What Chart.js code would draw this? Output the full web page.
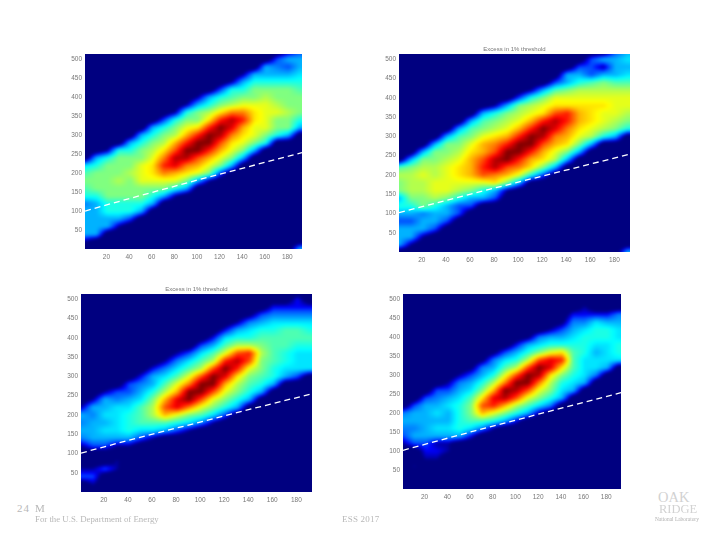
<!DOCTYPE html>
<html>
<head>
<meta charset="utf-8">
<title>Excess in 1% threshold</title>
<script src="https://cdn.jsdelivr.net/npm/chart.js@4"></script>
<style>
  html, body { margin: 0; padding: 0; background: #fff; }
  #page { position: relative; width: 720px; height: 540px; overflow: hidden; }
  canvas { position: absolute; }
  .foot { position: absolute; color: #b8b8b8; font-family: "Liberation Serif", serif; white-space: nowrap; line-height: 1; }
</style>
</head>
<body>
<div id="page">
  <canvas id="c1"></canvas>
  <canvas id="c2"></canvas>
  <canvas id="c3"></canvas>
  <canvas id="c4"></canvas>
  <span class="foot" style="left:17px;top:503px;font-size:11px;letter-spacing:1px">24</span>
  <span class="foot" style="left:35px;top:503px;font-size:11px">M</span>
  <span class="foot" style="left:35px;top:515px;font-size:8.8px">For the U.S. Department of Energy</span>
  <span class="foot" style="left:342px;top:515px;font-size:9px;letter-spacing:.2px">ESS 2017</span>
  <span class="foot" style="left:658px;top:490px;font-size:14.5px;color:#d2d2d2">OAK</span>
  <span class="foot" style="left:659px;top:503px;font-size:12.5px;color:#d2d2d2">RIDGE</span>
  <span class="foot" style="left:655px;top:517px;font-size:5.4px;color:#b0b0b0">National Laboratory</span>
</div>
<script>
// Grid nodes shared by the four panels
const xStops = [1, 11, 21, 31, 41, 51, 61, 71, 81, 91, 101, 111, 121, 131, 141, 151, 161, 171, 181, 191];
const yStep = 20; // each column below lists values at y = 0, 20, 40 ... (missing tail = 0)

const xTickValues = [20, 40, 60, 80, 100, 120, 140, 160, 180];
const yTickValues = [50, 100, 150, 200, 250, 300, 350, 400, 450, 500];

const titleText = 'Excess in 1% threshold';

// Dashed line
const lineX = [1, 33, 65, 97, 129, 161, 193];
const line1 = [100, 127, 153, 179, 204, 229, 254];
const line2 = [102, 128, 154, 179, 204, 229, 254];
const line3 = [101, 128, 154, 179, 205, 230, 255];
const line4 = [102, 128, 154, 179, 204, 229, 254];

// Heat values, 0 (navy) to 10 (dark red), one array per xStop
const heat1 = [
  [0,1,3,3,3,3,2.5,4,4.5,5,4.5,3.5,0],
  [0,0,3,3,3,3,3,4,5,5,5,4,3,0],
  [0,0,0,3,3,4,4,5,5,5,5,5,4,1,0],
  [0,0,0,1,3,4,4,5,5,5.5,5,5,5,4,0],
  [0,0,0,0,2,4,4,5,5,5,5.5,5,5,4,3,0],
  [0,0,0,0,0,3,4,5,5,6,6,6,5,5,4,3,0],
  [0,0,0,0,0,0,3,4,5,6,6.5,6.5,6,5.5,5,4,3,0],
  [0,0,0,0,0,0,0,3,5,6,7.5,8.5,7.5,6.5,5.5,5,4,2,0],
  [0,0,0,0,0,0,0,1,4,6,7,9,9.5,8,7,5.5,5,4,1],
  [0,0,0,0,0,0,0,0,3,5,6.5,7.5,9.5,10,8.5,7,6,5,4,1],
  [0,0,0,0,0,0,0,0,0,3,6,7,8,10,10,8.5,6.5,5,5,3,1],
  [0,0,0,0,0,0,0,0,0,1,5,6,7,8.5,10,10,8.5,6.5,5.5,4,3],
  [0,0,0,0,0,0,0,0,0,0,2,5,6,7,8,9.5,10,8.5,6.5,5,4,2],
  [0,0,0,0,0,0,0,0,0,0,0,3,5,6,6.5,7.5,9,9.5,7.5,5.5,4.5,4,1],
  [0,0,0,0,0,0,0,0,0,0,0,0,3,5,6,6.5,7,8.5,7.5,6,5,4,3,1],
  [0,0,0,0,0,0,0,0,0,0,0,0,0,3,5,6,6,6.5,6.5,6,5,5,4,3],
  [0,0,0,0,0,0,0,0,0,0,0,0,0,0,4,5,6,6,6,6,5.5,5,4,3,3],
  [0,0,0,0,0,0,0,0,0,0,0,0,0,0,0,4,5,5,6,5.5,5,5,4,3,2.5,2],
  [0,0,0,0,0,0,0,0,0,0,0,0,0,0,0,3,5,5,5.5,5,5,5,4,3,2,3,1],
  [3,0,0,0,0,0,0,0,0,0,0,0,0,0,0,0,3,4,5,5,5,4.5,4,3.5,3,3,2]
];
const heat2 = [
  [0,3,3,3,2,3,4,3,5,5,5.5,4.5,0],
  [0,1,3,3,2,3,4,5,5.5,5.5,5.5,5,3,0],
  [0,0,1,3,3,2.5,5,5,5.5,5.5,6,5.5,5,3,0],
  [0,0,0,2,3,3,4,5.5,6,6,5.5,5.5,5,5,3,0],
  [0,0,0,0,2,3,3,5,6,6,6,6,5.5,5,5,3,0],
  [0,0,0,0,0,2,2,4,5.5,6,6.5,6.5,6,5.5,5,4.5,3,0],
  [0,0,0,0,0,0,2,3,5,6,7,7,7,6.5,6,5,4.5,3,0],
  [0,0,0,0,0,0,0,3,4,6,8,8.5,8,7,7,6,5,4.5,3,0],
  [0,0,0,0,0,0,0,2,3,6.5,7.5,9.5,9.5,8,7.5,6.5,5.5,5,4,1],
  [0,0,0,0,0,0,0,0,1,5,7,8,10,10,8.5,7,6,5.5,5,3,0],
  [0,0,0,0,0,0,0,0,0,3,6,7.5,8.5,10,10,8.5,7,6,5.5,5,2,0],
  [0,0,0,0,0,0,0,0,0,0,4,6.5,7,8.5,10,10,8.5,7,6,5.5,4,1],
  [0,0,0,0,0,0,0,0,0,0,2,5,6.5,7,8,9.5,10,8.5,6.5,6,5,3,0],
  [0,0,0,0,0,0,0,0,0,0,0,3,5.5,6,7,7.5,9,9.5,8,6.5,6,4.5,2,0],
  [0,0,0,0,0,0,0,0,0,0,0,0,3,5,6.5,7,7.5,8.5,8.5,6.5,6,5,3,3,0],
  [0,0,0,0,0,0,0,0,0,0,0,0,0,3,5,6,6.5,7,7,6.5,6,5.5,4,3,2,0],
  [0,0,0,0,0,0,0,0,0,0,0,0,0,0,3,5.5,6,6.5,6.5,6.5,6,5.5,4.5,2,2,2,0],
  [0,0,0,0,0,0,0,0,0,0,0,0,0,0,0,4,5.5,6,6,6.5,6,5.5,5,3,1,3,0],
  [0,0,0,0,0,0,0,0,0,0,0,0,0,0,0,3,5,5.5,6,6,6,5.5,4.5,3,3,3,2],
  [3,0,0,0,0,0,0,0,0,0,0,0,0,0,0,0,4,5,5.5,6,6,5.5,4.5,3.5,3,3.5,3]
];
const heat3 = [
  [0,0,2,1,0,0,1,2.5,3,2.5,3,1,0],
  [0,1,2,1,0,0,2,3,3,3,2.5,3,1,0],
  [0,0,0,2,0,0,2,3,3.5,3,3.5,3,3,1,0],
  [0,0,0,1,1,0,1,3,3.5,3.5,3.5,3.5,2.5,2,0],
  [0,0,0,0,0,0,1,3,4,4,4,3.5,3,2,2,0],
  [0,0,0,0,0,0,0,2,3.5,4.5,4.5,4.5,3.5,3,2.5,1.5,0],
  [0,0,0,0,0,0,0,1,3.5,4.5,5.5,5.5,5,4,3,3,1.5,0],
  [0,0,0,0,0,0,0,0,3,4.5,7,8,7,5.5,4.5,3.5,2.5,1,0],
  [0,0,0,0,0,0,0,0,2,4,6,9,9,7,6,4.5,3.5,2.5,1],
  [0,0,0,0,0,0,0,0,1,3.5,5,7.5,10,10,7.5,6,4.5,3.5,2,0],
  [0,0,0,0,0,0,0,0,0,2.5,4.5,6,8,10,10,8,5.5,4.5,3.5,2,0],
  [0,0,0,0,0,0,0,0,0,1,3.5,5,6,8,10,10,8,5.5,4.5,3,1.5],
  [0,0,0,0,0,0,0,0,0,0,2,4,5,6,7,9,10,8.5,6,4.5,3.5,1.5],
  [0,0,0,0,0,0,0,0,0,0,0,3,4,5,5.5,6.5,8.5,9.5,8,5.5,4,3,1],
  [0,0,0,0,0,0,0,0,0,0,0,0,3,4,4.5,5,6,8,8.5,5.5,4,3.5,2.5,0.5],
  [0,0,0,0,0,0,0,0,0,0,0,0,0,3,4,4.5,5,5,5.5,5,4.5,4,3,2],
  [0,0,0,0,0,0,0,0,0,0,0,0,0,0,3,4,4,4.5,4.5,4.5,4.5,4,3.5,2.5,1.5],
  [0,0,0,0,0,0,0,0,0,0,0,0,0,0,0,3,3.5,4,4,4.5,4.5,4.5,3.5,2.5,1.5],
  [0,0,0,0,0,0,0,0,0,0,0,0,0,0,0,2,3.5,3.5,3.5,4,4.5,4.5,3.5,2.5,1.5,1.5],
  [0,0,0,0,0,0,0,0,0,0,0,0,0,0,0,0,3.5,3.5,3.5,4,4.5,4,3.5,2.5,1.5]
];
const heat4 = [
  [0,0,0,0,0,0,1,2,2.5,3,2.5,0],
  [0,0,0,1,0,0,2,3,2.5,3,3,2,0],
  [0,0,0,0,1,1.5,2,3,3,3,3,3,2,0],
  [0,0,0,0,1,1.5,1,3,3.5,3,3.5,3,2.5,2,0],
  [0,0,0,0,0,1,1,3,3.5,3,3,3.5,3,2,1],
  [0,0,0,0,0,0,0,3,4,4,4,4,3.5,3,2.5,1],
  [0,0,0,0,0,0,0,1.5,3.5,4.5,5,5,4.5,3.5,3,2,0.5],
  [0,0,0,0,0,0,0,0,2.5,4.5,7,8,6.5,5,4,3,2.5,0.5],
  [0,0,0,0,0,0,0,0,1,4,6,8.5,9,7,5.5,4,3,2.5,0.5],
  [0,0,0,0,0,0,0,0,0,3,5,7,9.5,10,7.5,6,4.5,3.5,2,0],
  [0,0,0,0,0,0,0,0,0,1.5,4,5.5,8,9.5,10,8,5.5,4,3,1.5],
  [0,0,0,0,0,0,0,0,0,0,3,4.5,6,8,10,10,8,5.5,4,3,0.5],
  [0,0,0,0,0,0,0,0,0,0,1,3.5,5,6,7.5,9.5,10,8,5,3.5,2.5],
  [0,0,0,0,0,0,0,0,0,0,0,2.5,4,5,5.5,6.5,9,9,6,4,3,1],
  [0,0,0,0,0,0,0,0,0,0,0,0,3,3.5,4,5,6.5,8.5,6.5,4,3,2,0.5],
  [0,0,0,0,0,0,0,0,0,0,0,0,0,3,3.5,4,4.5,4.5,4.5,4,3.5,3,2.5,1.5],
  [0,0,0,0,0,0,0,0,0,0,0,0,0,0,3,3.5,3.5,3.5,4,4,4,3.5,2.5,1.5,1],
  [0,0,0,0,0,0,0,0,0,0,0,0,0,0,0,2.5,3.5,3.5,3,3.5,4,4,3.5,1.5],
  [0,0,0,0,0,0,0,0,0,0,0,0,0,0,0,0,3,3.5,3.5,3.5,4,4,3,1.5],
  [0,0,0,0,0,0,0,0,0,0,0,0,0,0,0,0,0,3.5,4,4,3.5,3.5,3,2.5]
];

/**
 * Jet colour for a heat value 0..10. Low values fall off fast so the
 * band edge against the navy background stays narrow.
 */
function jet(v) {
  const e = v <= 0.8 ? 0 : (v < 2 ? (v - 0.8) / 1.2 * 2 : v);
  const t = Math.max(0, Math.min(1, e / 10));
  const ch = d => Math.max(0, Math.min(1, 1.5 - Math.abs(4 * t - d)));
  return [ch(3) * 255, ch(2) * 255, ch(1) * 255];
}

function heatAt(grid, xv, yv) {
  const fx = Math.max(0, Math.min(xStops.length - 1.001, (xv - xStops[0]) / (xStops[1] - xStops[0])));
  const fy = Math.max(0, yv / yStep);
  const i = Math.floor(fx), j = Math.floor(fy);
  const a = fx - i, b = fy - j;
  const get = (c, r) => grid[c][r] ?? 0;
  return (get(i, j) * (1 - a) + get(i + 1, j) * a) * (1 - b) +
         (get(i, j + 1) * (1 - a) + get(i + 1, j + 1) * a) * b;
}

const BLUR_PAD = 8; // painted beyond the plot so the blur has no soft border

// Paints the heat grid under the datasets, through the chart's scales
const heatLayer = {
  id: 'heatLayer',
  beforeDatasetsDraw(chart, args, opts) {
    const area = chart.chartArea;
    const { x, y } = chart.scales;
    const w = Math.round(area.width) + BLUR_PAD * 2;
    const h = Math.round(area.height) + BLUR_PAD * 2;
    const off = document.createElement('canvas');
    off.width = w;
    off.height = h;
    const octx = off.getContext('2d');
    const img = octx.createImageData(w, h);
    for (let py = 0; py < h; py++) {
      const yv = y.getValueForPixel(area.top - BLUR_PAD + py + 0.5);
      for (let px = 0; px < w; px++) {
        const xv = x.getValueForPixel(area.left - BLUR_PAD + px + 0.5);
        const c = jet(heatAt(opts.grid, xv, yv));
        const k = (py * w + px) * 4;
        img.data[k] = c[0];
        img.data[k + 1] = c[1];
        img.data[k + 2] = c[2];
        img.data[k + 3] = 255;
      }
    }
    octx.putImageData(img, 0, 0);
    const ctx = chart.ctx;
    ctx.save();
    ctx.beginPath();
    ctx.rect(area.left, area.top, area.width, area.height);
    ctx.clip();
    ctx.filter = 'blur(1.6px)';
    ctx.drawImage(off, area.left - BLUR_PAD, area.top - BLUR_PAD);
    ctx.restore();
  }
};

const MARGIN = { left: 30, right: 12, top: 10, bottom: 20 };

function makePanel(id, rect, grid, lineY, showTitle) {
  const cv = document.getElementById(id);
  cv.width = rect.w + MARGIN.left + MARGIN.right;
  cv.height = rect.h + MARGIN.top + MARGIN.bottom;
  cv.style.left = (rect.x - MARGIN.left) + 'px';
  cv.style.top = (rect.y - MARGIN.top) + 'px';
  const tickFont = { family: '"Liberation Sans"', size: 6.5 };
  return new Chart(cv, {
    type: 'scatter',
    data: {
      datasets: [{
        data: lineX.map((x, i) => ({ x, y: lineY[i] })),
        showLine: true,
        borderColor: '#ffffff',
        borderWidth: 1.3,
        borderDash: [6, 4],
        pointRadius: 0,
        tension: 0
      }]
    },
    options: {
      responsive: false,
      animation: false,
      devicePixelRatio: 1,
      layout: { padding: { left: 0, right: MARGIN.right, bottom: 0, top: showTitle ? 0 : MARGIN.top } },
      plugins: {
        legend: { display: false },
        tooltip: { enabled: false },
        title: {
          display: showTitle,
          fullSize: false,
          text: titleText,
          color: '#777',
          font: { family: '"Liberation Sans"', size: 6, weight: 'normal', lineHeight: 1 },
          padding: { top: 2, bottom: 2 }
        },
        heatLayer: { grid }
      },
      scales: {
        x: {
          type: 'linear',
          min: 1,
          max: 193,
          grid: { display: false, drawTicks: false },
          border: { display: false },
          ticks: { color: '#777', font: tickFont, padding: 4, maxRotation: 0, autoSkip: false },
          afterBuildTicks: s => { s.ticks = xTickValues.map(value => ({ value })); },
          afterFit: s => { s.height = MARGIN.bottom; }
        },
        y: {
          type: 'linear',
          min: 0,
          max: 514,
          grid: { display: false, drawTicks: false },
          border: { display: false },
          ticks: { color: '#777', font: tickFont, padding: 3, autoSkip: false },
          afterBuildTicks: s => { s.ticks = yTickValues.map(value => ({ value })); },
          afterFit: s => { s.width = MARGIN.left; }
        }
      }
    },
    plugins: [heatLayer]
  });
}

makePanel('c1', { x: 85, y: 54, w: 217, h: 195 }, heat1, line1, false);
makePanel('c2', { x: 399, y: 54, w: 231, h: 198 }, heat2, line2, true);
makePanel('c3', { x: 81, y: 294, w: 231, h: 198 }, heat3, line3, true);
makePanel('c4', { x: 403, y: 294, w: 218, h: 195 }, heat4, line4, false);
</script>
</body>
</html>
